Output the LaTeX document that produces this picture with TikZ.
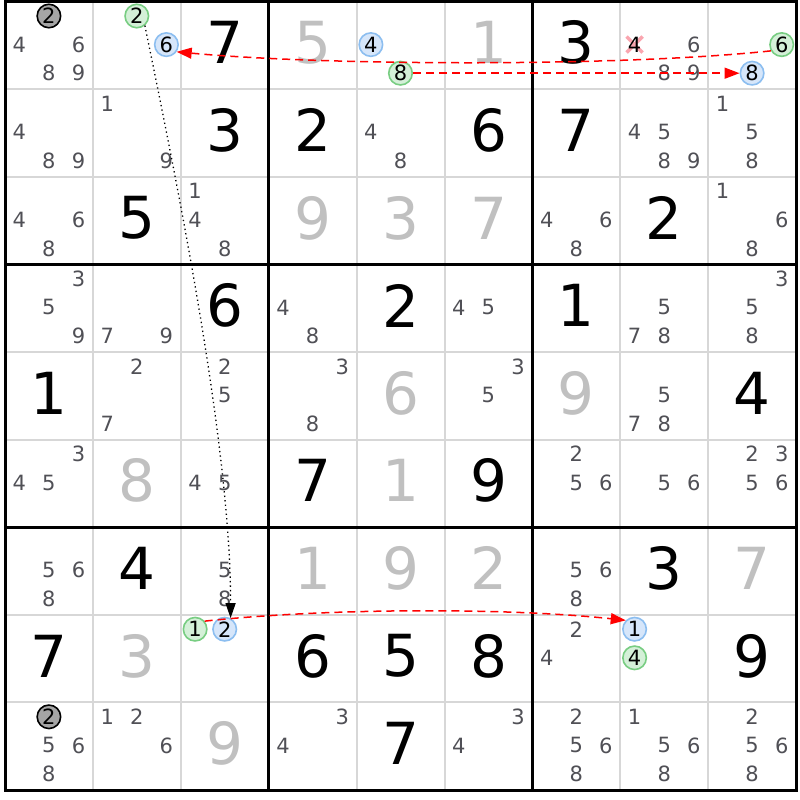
\documentclass[tikz,border=0pt]{standalone}
\usepackage{fontspec}
\setmainfont{DejaVu Sans}
\usetikzlibrary{arrows.meta}
\definecolor{candgray}{RGB}{80,80,86}
\definecolor{solvedgray}{RGB}{192,192,192}
\definecolor{gridgray}{RGB}{215,215,215}
\definecolor{greenfill}{RGB}{212,240,216}
\definecolor{greenline}{RGB}{120,205,130}
\definecolor{bluefill}{RGB}{214,230,250}
\definecolor{blueline}{RGB}{140,190,240}
\definecolor{greyfill}{RGB}{165,165,165}
\definecolor{xpink}{RGB}{250,165,175}
\definecolor{linkred}{RGB}{255,0,0}
\tikzset{
  cand/.style={inner sep=0pt, text=candgray, font=\fontsize{21}{21}\selectfont},
  given/.style={inner sep=0pt, text=black, font=\fontsize{58}{58}\selectfont},
  solved/.style={given, text=solvedgray},
  ringbase/.style={circle, minimum size=23.5pt, inner sep=0pt, line width=1.6pt, text=black, font=\fontsize{21}{21}\selectfont},
  ringgreen/.style={ringbase, draw=greenline, fill=greenfill},
  ringblue/.style={ringbase, draw=blueline, fill=bluefill},
  ringgrey/.style={ringbase, draw=black, fill=greyfill},
  xcand/.style={cand, text=black},
  thinline/.style={gridgray, line width=2pt},
  thickline/.style={black, line width=3pt},
  linkdash/.style={linkred, line width=1.5pt, dash pattern=on 8pt off 5pt, -{Triangle[length=15pt,width=11pt]}},
  linkdot/.style={black, line width=1.3pt, dash pattern=on 1.3pt off 3.2pt, -{Triangle[length=15pt,width=10pt]}},
}
\newcommand\PutCands[3]{%
  \foreach \dd in {#3}{%
    \pgfmathsetmacro\px{5+87.9*(#2-1)+14.3+29.6*mod(\dd-1,3)}%
    \pgfmathsetmacro\py{1.5+87.6*(#1-1)+14.5+28.6*floor((\dd-1)/3)}%
    \node[cand] (k#1#2\dd) at (\px,\py) {\dd};
  }}
\newcommand\PutRing[4]{%
  \pgfmathsetmacro\px{5+87.9*(#3-1)+14.3+29.6*mod(#4-1,3)}%
  \pgfmathsetmacro\py{1.5+87.6*(#2-1)+14.5+28.6*floor((#4-1)/3)}%
  \node[#1] (#1#2#3) at (\px,\py) {#4};}
\newcommand\PutBig[4]{%
  \pgfmathsetmacro\px{5+87.9*(#3-0.5)}%
  \pgfmathsetmacro\py{1.5+87.6*(#2-0.5)-2.5}%
  \node[#1] (v#2#3) at (\px,\py) {#4};}
\begin{document}
\begin{tikzpicture}[x=1pt,y=-1pt]
\useasboundingbox (0,0) rectangle (800,800);
\fill[white] (0,0) rectangle (800,800);
% grid
\foreach \i in {1,2,4,5,7,8}{
  \draw[thinline] (5+87.9*\i,1.5) -- (5+87.9*\i,790);
  \draw[thinline] (5,1.5+87.6*\i) -- (796.1,1.5+87.6*\i);
}
\foreach \i in {3,6}{
  \draw[thickline] (5+87.9*\i,1.5) -- (5+87.9*\i,790);
  \draw[thickline] (5,1.5+87.6*\i) -- (796.1,1.5+87.6*\i);
}
\draw[thickline] (5,1.5) rectangle (796.1,790);
% big digits
\PutBig{given}{1}{3}{7}\PutBig{solved}{1}{4}{5}\PutBig{solved}{1}{6}{1}\PutBig{given}{1}{7}{3}
\PutBig{given}{2}{3}{3}\PutBig{given}{2}{4}{2}\PutBig{given}{2}{6}{6}\PutBig{given}{2}{7}{7}
\PutBig{given}{3}{2}{5}\PutBig{solved}{3}{4}{9}\PutBig{solved}{3}{5}{3}\PutBig{solved}{3}{6}{7}\PutBig{given}{3}{8}{2}
\PutBig{given}{4}{3}{6}\PutBig{given}{4}{5}{2}\PutBig{given}{4}{7}{1}
\PutBig{given}{5}{1}{1}\PutBig{solved}{5}{5}{6}\PutBig{solved}{5}{7}{9}\PutBig{given}{5}{9}{4}
\PutBig{solved}{6}{2}{8}\PutBig{given}{6}{4}{7}\PutBig{solved}{6}{5}{1}\PutBig{given}{6}{6}{9}
\PutBig{given}{7}{2}{4}\PutBig{solved}{7}{4}{1}\PutBig{solved}{7}{5}{9}\PutBig{solved}{7}{6}{2}\PutBig{given}{7}{8}{3}\PutBig{solved}{7}{9}{7}
\PutBig{given}{8}{1}{7}\PutBig{solved}{8}{2}{3}\PutBig{given}{8}{4}{6}\PutBig{given}{8}{5}{5}\PutBig{given}{8}{6}{8}\PutBig{given}{8}{9}{9}
\PutBig{solved}{9}{3}{9}\PutBig{given}{9}{5}{7}
% candidates
\PutCands{1}{1}{4,6,8,9}
\PutCands{1}{8}{6,8,9}
\PutCands{2}{1}{4,8,9}\PutCands{2}{2}{1,9}\PutCands{2}{5}{4,8}\PutCands{2}{8}{4,5,8,9}\PutCands{2}{9}{1,5,8}
\PutCands{3}{1}{4,6,8}\PutCands{3}{3}{1,4,8}\PutCands{3}{7}{4,6,8}\PutCands{3}{9}{1,6,8}
\PutCands{4}{1}{3,5,9}\PutCands{4}{2}{7,9}\PutCands{4}{4}{4,8}\PutCands{4}{6}{4,5}\PutCands{4}{8}{5,7,8}\PutCands{4}{9}{3,5,8}
\PutCands{5}{2}{2,7}\PutCands{5}{3}{2,5}\PutCands{5}{4}{3,8}\PutCands{5}{6}{3,5}\PutCands{5}{8}{5,7,8}
\PutCands{6}{1}{3,4,5}\PutCands{6}{3}{4,5}\PutCands{6}{7}{2,5,6}\PutCands{6}{8}{5,6}\PutCands{6}{9}{2,3,5,6}
\PutCands{7}{1}{5,6,8}\PutCands{7}{3}{5,8}\PutCands{7}{7}{5,6,8}
\PutCands{8}{7}{2,4}
\PutCands{9}{1}{5,6,8}\PutCands{9}{2}{1,2,6}\PutCands{9}{4}{3,4}\PutCands{9}{6}{3,4}\PutCands{9}{7}{2,5,6,8}\PutCands{9}{8}{1,5,6,8}\PutCands{9}{9}{2,5,6,8}
% eliminated candidate
\coordinate (xm184) at (5+87.9*7+14.3,1.5+14.5+28.6);
\draw[xpink, line width=3.5pt] (xm184) +(-8,-8) -- +(8,8) +(-8,8) -- +(8,-8);
\node[xcand] (k184) at (xm184) {4};
% rings
\PutRing{ringgrey}{1}{1}{2}
\PutRing{ringgreen}{1}{2}{2}\PutRing{ringblue}{1}{2}{6}
\PutRing{ringblue}{1}{5}{4}\PutRing{ringgreen}{1}{5}{8}
\PutRing{ringgreen}{1}{9}{6}\PutRing{ringblue}{1}{9}{8}
\PutRing{ringgreen}{8}{3}{1}\PutRing{ringblue}{8}{3}{2}
\PutRing{ringblue}{8}{8}{1}\PutRing{ringgreen}{8}{8}{4}
\PutRing{ringgrey}{9}{1}{2}
% links
\draw[linkdot] (ringgreen12.-50) .. controls +(36,175) and +(0,-169) .. (ringblue83.62);
\draw[linkdash] (ringgreen19.210) .. controls +(-150,16) and +(150,14) .. (ringblue12.-35);
\draw[linkdash] (ringgreen15.east) -- (ringblue19.west);
\draw[linkdash] (ringgreen83.40) .. controls +(120,-13) and +(-120,-13) .. (ringblue88.135);
\end{tikzpicture}
\end{document}
